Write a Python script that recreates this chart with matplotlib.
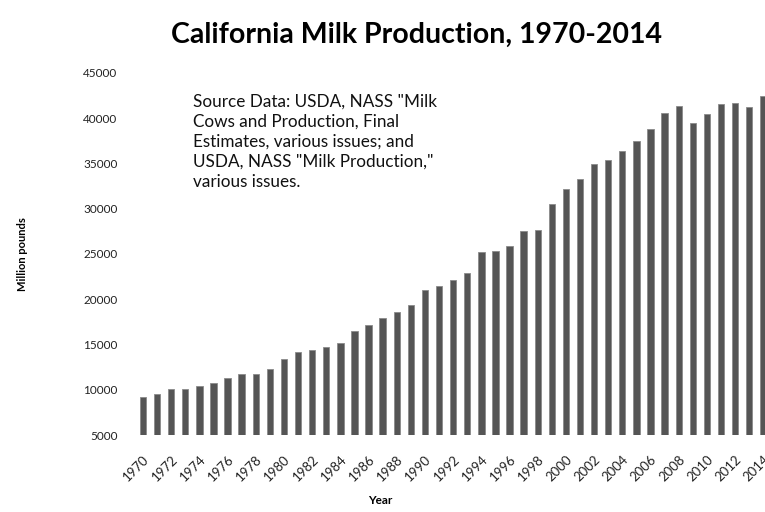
import matplotlib
matplotlib.use('Agg')
import matplotlib.pyplot as plt

# California milk production, million pounds
years = list(range(1970, 2015))
production = [
    9200, 9580, 10130, 10130, 10420, 10750, 11340, 11780, 11780, 12330,
    13430, 14150, 14420, 14700, 15190, 16540, 17200, 17890, 18630, 19360,
    21010, 21480, 22090, 22930, 25230, 25380, 25930, 27580, 27690, 30500,
    32190, 33250, 34970, 35370, 36360, 37490, 38840, 40600, 41330, 39460,
    40410, 41510, 41660, 41220, 42390,
]
tick_years = years[::2]
y_ticks = list(range(5000, 45001, 5000))

source_note = ('Source Data: USDA, NASS "Milk\n'
               'Cows and Production, Final\n'
               'Estimates, various issues; and\n'
               'USDA, NASS "Milk Production,"\n'
               'various issues.')

plt.rcParams['font.family'] = ['Lato', 'DejaVu Sans']

fig = plt.figure(figsize=(7.65, 5.12), dpi=100)
ax = fig.add_axes([130 / 765, 0.150, 635 / 765, 0.708])

ax.bar(years, [p - 5000 for p in production], bottom=5000, width=0.45,
       color='#555555', edgecolor='#8a8a8a', linewidth=0.6)

ax.set_xlim(1970 - 0.92, 2014.12)
ax.set_ylim(5000, 45000)
ax.set_yticks(y_ticks)
ax.set_yticklabels([str(v) for v in y_ticks], fontsize=8.5, color='#222222')
ax.set_xticks(tick_years)
ax.set_xticklabels([str(y) for y in tick_years], rotation=45, ha='right',
                   va='top', rotation_mode='anchor', fontsize=9.5, color='#222222')
ax.tick_params(axis='y', length=0, pad=9)
ax.tick_params(axis='x', length=0, pad=13)
for s in ax.spines.values():
    s.set_visible(False)

ax.set_ylabel('Million pounds', fontsize=8, fontweight='bold')
ax.yaxis.set_label_coords(-0.16, 0.5)
fig.text(380 / 765, 1 - 500 / 512, 'Year', fontsize=8.5, fontweight='bold',
         ha='center', va='center')
fig.text(417 / 765, 1 - 35 / 512, 'California Milk Production, 1970-2014',
         fontsize=20.5, fontweight='bold', ha='center', va='center')
fig.text(193 / 765, 1 - 94 / 512, source_note, fontsize=12.3, ha='left',
         va='top', linespacing=1.3, color='#111111')

fig.savefig('out.png', dpi=100, facecolor='white')
